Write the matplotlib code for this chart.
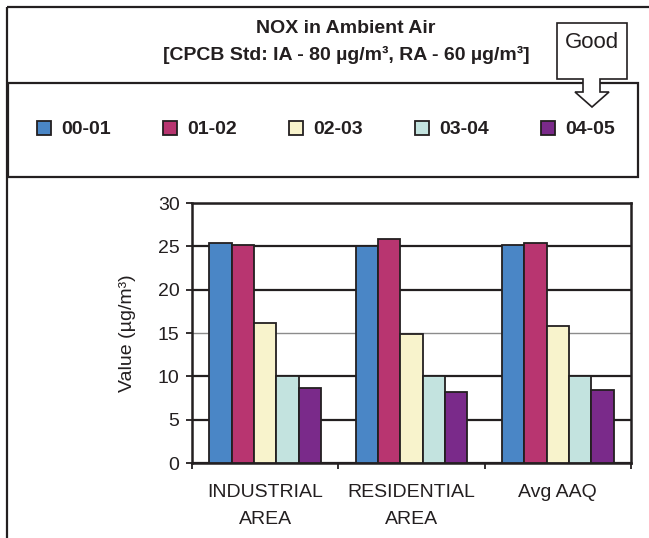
import numpy as np
import matplotlib
matplotlib.use("Agg")
import matplotlib.pyplot as plt
from matplotlib.patches import Rectangle, Polygon

plt.rcParams['font.family'] = ['Liberation Sans', 'DejaVu Sans']

# NOx values per monitoring area and year
areas = ["INDUSTRIAL\nAREA", "RESIDENTIAL\nAREA", "Avg AAQ"]
years = ["00-01", "01-02", "02-03", "03-04", "04-05"]
nox_00_01 = [25.4, 25.0, 25.2]
nox_01_02 = [25.2, 25.8, 25.4]
nox_02_03 = [16.2, 14.9, 15.8]
nox_03_04 = [10.0, 10.0, 10.0]
nox_04_05 = [8.6, 8.2, 8.4]
series = [nox_00_01, nox_01_02, nox_02_03, nox_03_04, nox_04_05]
colors = ["#4a86c6", "#b83570", "#f8f3cc", "#c3e3df", "#7a2a8a"]
yticks = [0, 5, 10, 15, 20, 25, 30]

ink = "#231f20"
W, H = 649, 538
fig = plt.figure(figsize=(W / 100, H / 100), dpi=100)

# background layer in pixel coordinates for the frames and callout
bg = fig.add_axes([0, 0, 1, 1])
bg.set_xlim(0, W)
bg.set_ylim(H, 0)
bg.axis("off")
bg.add_patch(Rectangle((7, 7), 700, 600, fill=False, ec=ink, lw=1.6))
bg.add_patch(Rectangle((8, 83), 630, 94, fill=False, ec=ink, lw=1.6))

callout = [(557, 23), (627, 23), (627, 79), (600, 79), (600, 92), (609, 92),
           (592, 107), (575, 92), (583, 92), (583, 79), (557, 79)]
bg.add_patch(Polygon(callout, closed=True, fc="white", ec=ink, lw=1.2, zorder=5))
bg.text(592, 43, "Good", ha="center", va="center", fontsize=16, color=ink, zorder=6)

bg.text(346, 42, "NOX in Ambient Air\n[CPCB Std: IA - 80 µg/m³, RA - 60 µg/m³]",
        ha="center", va="center", ma="center", fontsize=14, fontweight="bold",
        color=ink, linespacing=1.6)

# bar chart
ax = fig.add_axes([192 / W, 1 - 463 / H, (631 - 192) / W, (463 - 203) / H])
x = np.arange(len(areas))
bw = 0.153
bars = []
for i, (vals, c) in enumerate(zip(series, colors)):
    b = ax.bar(x + (i - 2) * bw, vals, bw, color=c, edgecolor=ink, lw=1.3,
               label=years[i], zorder=3)
    bars.append(b)

ax.set_xlim(-0.5, 2.5)
ax.set_ylim(0, 30)
ax.set_yticks(yticks)
ax.grid(axis="y", color=ink, lw=1.6, zorder=1)
ax.get_ygridlines()[3].set_color("#8c8c8c")
ax.get_ygridlines()[3].set_linewidth(1.0)

ax.set_xticks(x)
ax.set_xticklabels(areas, fontsize=14, color=ink, linespacing=1.75)
ax.set_xticks([-0.5, 0.5, 1.5, 2.5], minor=True)
ax.tick_params(axis="x", which="major", length=0, pad=15)
ax.tick_params(axis="x", which="minor", length=4, width=1.3, color=ink, direction="out")
ax.tick_params(axis="y", length=4, width=1.3, color=ink, pad=5, labelsize=14, labelcolor=ink)
for s in ax.spines.values():
    s.set_linewidth(1.8)
    s.set_color(ink)

ax.set_ylabel("Value (µg/m³)", fontsize=14, color=ink)
ax.yaxis.set_label_coords(-0.128, 0.5)

fig.legend(handles=bars, labels=years, loc="center left",
           bbox_to_anchor=(37 / W, 1 - 129.5 / H), ncol=5, frameon=False,
           prop={"size": 14, "weight": "bold"}, borderpad=0, borderaxespad=0,
           handlelength=0.72, handleheight=0.72, handletextpad=0.51,
           columnspacing=2.7, labelcolor=ink)

fig.savefig("out.png", dpi=100)
